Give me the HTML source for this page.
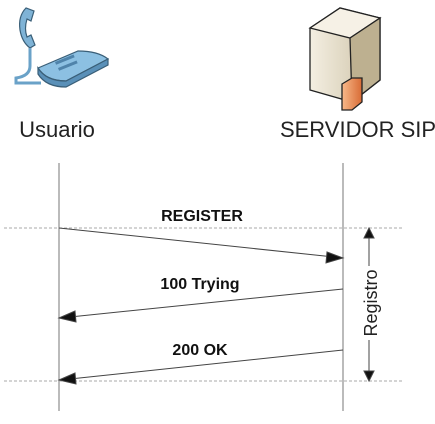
<!DOCTYPE html>
<html><head><style>body{margin:0;background:#fff;width:435px;height:419px;overflow:hidden}</style></head>
<body>
<svg width="435" height="419" xmlns="http://www.w3.org/2000/svg" font-family="Liberation Sans, sans-serif">
<defs>
<linearGradient id="sv" x1="0" x2="1"><stop offset="0" stop-color="#f4efe2"/><stop offset="1" stop-color="#cbbfa3"/></linearGradient>
<linearGradient id="fw" x1="0" x2="1"><stop offset="0" stop-color="#f7b98a"/><stop offset="1" stop-color="#d86b35"/></linearGradient>
</defs>
<!-- phone -->
<g stroke="#3a5f78" stroke-width="1.2">
<path d="M26 8 q-8 8 -6 22 q2 12 10 18 l5-3 -4-10 -4 2 q-3-8 0-18 l4 2 3-10z" fill="#7fb3d6"/>
<path d="M30 48 v18 q0 10 -14 12 v5 h25" fill="none" stroke-width="3" stroke="#6aa2c8"/>
<path d="M38 68 l40-17 q20 0 30 8 l-42 22 q-20 0 -28-13z" fill="#8cc0e2"/>
<path d="M38 68 v6 q8 13 28 13 l42-22 v-6 l-42 22 q-20 0 -28-13z" fill="#5a90b8"/>
<g fill="#4f83aa" stroke="none"><rect x="55" y="62" width="20" height="3" transform="rotate(-22 55 62)"/><rect x="58" y="68" width="20" height="3" transform="rotate(-22 58 68)"/></g>
</g>
<!-- server -->
<g stroke="#222" stroke-width="1.3">
<path d="M310 28 l30-20 l40 10 v62 l-28 22 l-42-12z" fill="url(#sv)"/>
<path d="M310 28 l30-20 l40 10 l-30 20z" fill="#f6f1e6"/>
<path d="M350 38 l30-20 v62 l-28 22z" fill="#bdb090"/>
<path d="M342 84 l10-6 h10 v24 l-10 8 h-10z" fill="url(#fw)"/>
</g>
<text x="57" y="137" font-size="22" text-anchor="middle" fill="#222">Usuario</text>
<text x="358" y="137" font-size="22" text-anchor="middle" fill="#222">SERVIDOR SIP</text>
<g stroke="#777" stroke-width="1">
<line x1="59" y1="163" x2="59" y2="411"/>
<line x1="343" y1="163" x2="343" y2="411"/>
</g>
<g stroke="#aaa" stroke-width="1" stroke-dasharray="3,2">
<line x1="4" y1="228" x2="402" y2="228"/>
<line x1="4" y1="381" x2="402" y2="381"/>
</g>
<g stroke="#444" stroke-width="1" fill="#111">
<line x1="59" y1="228" x2="334" y2="257"/>
<path d="M343 258 l-16 -6 l-1 11z"/>
<line x1="343" y1="289" x2="70" y2="317"/>
<path d="M59 318 l16 -7 l1 11z"/>
<line x1="343" y1="350" x2="70" y2="379"/>
<path d="M59 380 l16 -7 l1 11z"/>
<line x1="369" y1="235" x2="369" y2="372"/>
<path d="M369 228 l-5 10 h10z M369 381 l-5 -10 h10z"/>
</g>
<rect x="360" y="266" width="18" height="74" fill="#fff"/>
<g font-weight="bold" font-size="16" fill="#111" text-anchor="middle">
<text x="202" y="221">REGISTER</text>
<text x="200" y="289">100 Trying</text>
<text x="200" y="355">200 OK</text>
</g>
<text transform="translate(377 303) rotate(-90)" font-size="18" text-anchor="middle" fill="#222">Registro</text>
</svg>
</body></html>
